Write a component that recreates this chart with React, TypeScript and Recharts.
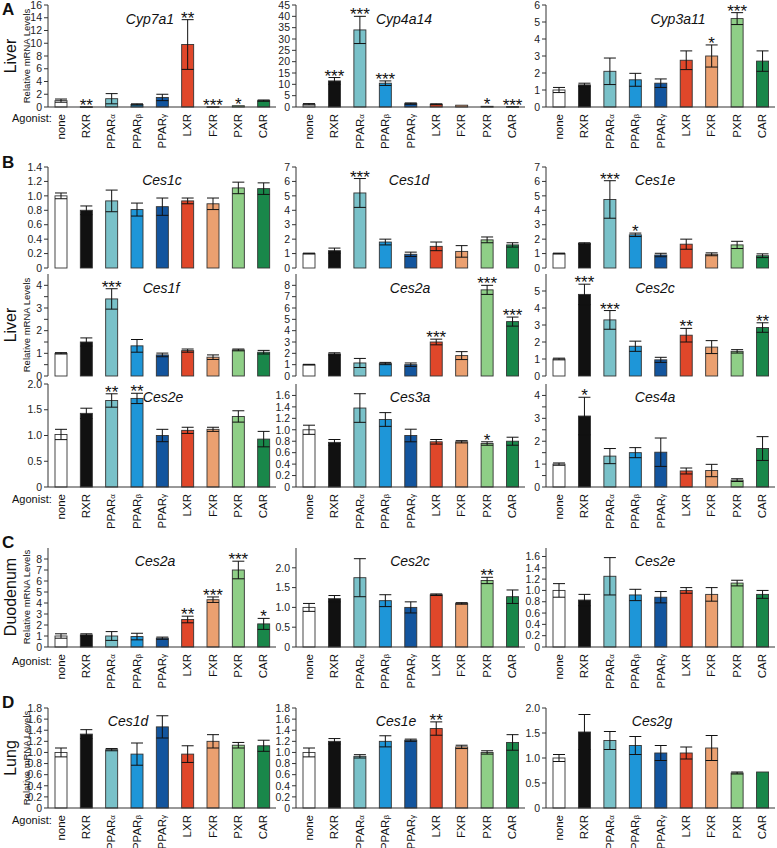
import { BarChart, Bar, XAxis, YAxis, ErrorBar } from 'recharts';

const FONT = 'Arial, "Liberation Sans", sans-serif';

const agonists = ['none', 'RXR', 'PPARα', 'PPARβ', 'PPARγ', 'LXR', 'FXR', 'PXR', 'CAR'];
const barColors = ['#ffffff', '#111111', '#79c1c9', '#1e96d8', '#13559e', '#e0472a', '#eba070', '#8fcf87', '#19874a'];

// A - liver
const cyp7a1Mean = [1.0, 0.05, 1.3, 0.4, 1.5, 9.8, 0.05, 0.2, 1.0];
const cyp7a1Err = [0.25, 0, 0.8, 0.1, 0.5, 3.9, 0, 0, 0.1];
const cyp7a1Sig = ['', '**', '', '', '', '**', '***', '*', ''];
const cyp7a1Ticks = [0, 2, 4, 6, 8, 10, 12, 14, 16];

const cyp4a14Mean = [1.2, 11.5, 34, 10.5, 1.5, 1.2, 0.8, 0.3, 0.2];
const cyp4a14Err = [0.3, 1.5, 6, 1.0, 0.3, 0.2, 0, 0, 0];
const cyp4a14Sig = ['', '***', '***', '***', '', '', '', '*', '***'];
const cyp4a14Ticks = [0, 5, 10, 15, 20, 25, 30, 35, 40, 45];

const cyp3a11Mean = [1.0, 1.3, 2.1, 1.6, 1.4, 2.75, 3.0, 5.2, 2.7];
const cyp3a11Err = [0.15, 0.1, 0.78, 0.38, 0.25, 0.55, 0.65, 0.35, 0.6];
const cyp3a11Sig = ['', '', '', '', '', '', '*', '***', ''];
const cyp3a11Ticks = [0, 1, 2, 3, 4, 5, 6];

// B - liver carboxylesterases
const ces1cMean = [1.0, 0.8, 0.93, 0.81, 0.85, 0.93, 0.89, 1.11, 1.1];
const ces1cErr = [0.04, 0.06, 0.15, 0.09, 0.12, 0.04, 0.08, 0.08, 0.08];
const ces1cSig = ['', '', '', '', '', '', '', '', ''];
const ces1cTicks = [0, 0.2, 0.4, 0.6, 0.8, 1.0, 1.2, 1.4];

const ces1dMean = [1.0, 1.2, 5.2, 1.8, 0.95, 1.5, 1.15, 1.95, 1.6];
const ces1dErr = [0.03, 0.18, 1.0, 0.2, 0.15, 0.3, 0.4, 0.2, 0.15];
const ces1dSig = ['', '', '***', '', '', '', '', '', ''];
const ces1dTicks = [0, 1, 2, 3, 4, 5, 6, 7];

const ces1eMean = [1.0, 1.7, 4.75, 2.3, 0.9, 1.65, 0.95, 1.6, 0.85];
const ces1eErr = [0.03, 0.05, 1.3, 0.12, 0.12, 0.35, 0.1, 0.25, 0.13];
const ces1eSig = ['', '', '***', '*', '', '', '', '', ''];
const ces1eTicks = [0, 1, 2, 3, 4, 5, 6, 7];

const ces1fMean = [1.0, 1.5, 3.4, 1.33, 0.93, 1.12, 0.83, 1.15, 1.05];
const ces1fErr = [0.03, 0.18, 0.45, 0.28, 0.08, 0.07, 0.1, 0.04, 0.08];
const ces1fSig = ['', '', '***', '', '', '', '', '', ''];
const ces1fTicks = [0, 0.5, 1, 1.5, 2, 2.5, 3, 3.5, 4];

const ces2aMean = [1.0, 1.95, 1.15, 1.1, 1.0, 3.0, 1.8, 7.6, 4.8];
const ces2aErr = [0.03, 0.1, 0.4, 0.1, 0.15, 0.25, 0.35, 0.4, 0.4];
const ces2aSig = ['', '', '', '', '', '***', '', '***', '***'];
const ces2aTicks = [0, 1, 2, 3, 4, 5, 6, 7, 8];

const ces2cMean = [1.0, 4.8, 3.3, 1.75, 0.95, 2.4, 1.7, 1.45, 2.85];
const ces2cErr = [0.05, 0.6, 0.55, 0.3, 0.15, 0.4, 0.38, 0.1, 0.28];
const ces2cSig = ['', '***', '***', '', '', '**', '', '', '**'];
const ces2cTicks = [0, 1, 2, 3, 4, 5];

const ces2eMean = [1.02, 1.43, 1.68, 1.72, 1.0, 1.1, 1.12, 1.37, 0.93];
const ces2eErr = [0.1, 0.1, 0.13, 0.1, 0.12, 0.06, 0.04, 0.11, 0.15];
const ces2eSig = ['', '', '**', '**', '', '', '', '', ''];
const ces2eTicks = [0, 0.5, 1.0, 1.5, 2.0];

const ces3aMean = [1.0, 0.78, 1.38, 1.18, 0.9, 0.79, 0.79, 0.76, 0.8];
const ces3aErr = [0.08, 0.05, 0.25, 0.12, 0.11, 0.04, 0.02, 0.03, 0.07];
const ces3aSig = ['', '', '', '', '', '', '', '*', ''];
const ces3aTicks = [0, 0.2, 0.4, 0.6, 0.8, 1.0, 1.2, 1.4, 1.6];

const ces4aMean = [1.0, 3.1, 1.35, 1.5, 1.52, 0.7, 0.72, 0.3, 1.68];
const ces4aErr = [0.05, 0.82, 0.33, 0.22, 0.62, 0.13, 0.27, 0.06, 0.52];
const ces4aSig = ['', '*', '', '', '', '', '', '', ''];
const ces4aTicks = [0, 0.5, 1, 1.5, 2, 2.5, 3, 3.5, 4];

// C - duodenum
const duoCes2aMean = [1.0, 1.1, 1.0, 0.95, 0.8, 2.5, 4.3, 7.0, 2.1];
const duoCes2aErr = [0.2, 0.1, 0.4, 0.3, 0.1, 0.3, 0.25, 0.8, 0.5];
const duoCes2aSig = ['', '', '', '', '', '**', '***', '***', '*'];
const duoCes2aTicks = [0, 1, 2, 3, 4, 5, 6, 7, 8];

const duoCes2cMean = [1.0, 1.22, 1.75, 1.17, 1.0, 1.32, 1.1, 1.68, 1.27];
const duoCes2cErr = [0.1, 0.08, 0.48, 0.15, 0.14, 0.02, 0.02, 0.08, 0.17];
const duoCes2cSig = ['', '', '', '', '', '', '', '**', ''];
const duoCes2cTicks = [0, 0.5, 1.0, 1.5, 2.0];

const duoCes2eMean = [1.0, 0.83, 1.25, 0.92, 0.88, 1.0, 0.93, 1.13, 0.93];
const duoCes2eErr = [0.12, 0.1, 0.33, 0.1, 0.1, 0.05, 0.12, 0.05, 0.07];
const duoCes2eSig = ['', '', '', '', '', '', '', '', ''];
const duoCes2eTicks = [0, 0.2, 0.4, 0.6, 0.8, 1.0, 1.2, 1.4, 1.6];

// D - lung
const lungCes1dMean = [1.0, 1.33, 1.05, 0.97, 1.46, 0.97, 1.2, 1.13, 1.12];
const lungCes1dErr = [0.08, 0.08, 0.02, 0.2, 0.2, 0.15, 0.12, 0.05, 0.1];
const lungCes1dSig = ['', '', '', '', '', '', '', '', ''];
const lungCes1dTicks = [0, 0.2, 0.4, 0.6, 0.8, 1.0, 1.2, 1.4, 1.6, 1.8];

const lungCes1eMean = [1.0, 1.2, 0.93, 1.2, 1.22, 1.43, 1.1, 1.0, 1.18];
const lungCes1eErr = [0.08, 0.05, 0.03, 0.1, 0.02, 0.12, 0.03, 0.03, 0.14];
const lungCes1eSig = ['', '', '', '', '', '**', '', '', ''];
const lungCes1eTicks = [0, 0.2, 0.4, 0.6, 0.8, 1.0, 1.2, 1.4, 1.6, 1.8];

const lungCes2gMean = [1.0, 1.52, 1.35, 1.25, 1.1, 1.1, 1.2, 0.7, 0.72];
const lungCes2gErr = [0.07, 0.35, 0.18, 0.18, 0.15, 0.12, 0.25, 0.02, 0];
const lungCes2gSig = ['', '', '', '', '', '', '', '', ''];
const lungCes2gTicks = [0, 0.5, 1.0, 1.5, 2.0];

const colX = [48, 296, 546];
const colW = [228, 229, 229];

const BarWithStars = (props: any) => {
  const { x, y, width, height, payload } = props;
  const unit = payload.mean > 0 ? height / payload.mean : 0;
  const errTop = y - payload.err * unit;
  return (
    <g>
      <rect x={x} y={y} width={width} height={Math.max(height, 0.8)} fill={payload.color} stroke="#333" strokeWidth={0.9} />
      {payload.sig ? (
        <text x={x + width / 2} y={errTop + 4} textAnchor="middle" fontSize={17} fontFamily={FONT} fill="#111">
          {payload.sig}
        </text>
      ) : null}
    </g>
  );
};

const AgonistTick = (props: any) => {
  const { x, y, payload } = props;
  const label: string = payload.value;
  const greek = /[αβγ]$/.test(label);
  return (
    <text transform={`translate(${x + 4},${y + 5}) rotate(-90)`} textAnchor="end" fontSize={11.5} fill="#111" fontFamily={FONT}>
      {greek ? (
        <>
          {label.slice(0, -1)}
          <tspan fontSize={8}>{label.slice(-1)}</tspan>
        </>
      ) : (
        label
      )}
    </text>
  );
};

interface PanelProps {
  col: number;
  y: number;
  h: number;
  mean: number[];
  err: number[];
  sig: string[];
  ticks: number[];
  max: number;
  digits: number;
  showX?: boolean;
}

function Panel({ col, y, h, mean, err, sig, ticks, max, digits, showX }: PanelProps) {
  const data = agonists.map((name, i) => ({ name, mean: mean[i], err: err[i], sig: sig[i], color: barColors[i] }));
  const axisW = 32;
  const top = 8;
  const bottom = showX ? 52 : 0;
  const w = colW[col];
  const fmt = (v: number) => {
    if (digits === 0 && !Number.isInteger(v)) return '';
    return v === 0 ? '0' : v.toFixed(digits);
  };
  return (
    <div style={{ position: 'absolute', left: colX[col] - axisW, top: y - top }}>
      <BarChart width={axisW + w + 2} height={top + h + bottom + 6} data={data} margin={{ top, right: 2, left: 0, bottom: 6 }} barSize={12}>
        <XAxis
          dataKey="name"
          interval={0}
          tickLine={false}
          tickSize={0}
          axisLine={{ stroke: '#333' }}
          height={bottom}
          tick={showX ? <AgonistTick /> : false}
        />
        <XAxis xAxisId="top" orientation="top" dataKey="name" height={0} tick={false} tickLine={false} axisLine={{ stroke: '#333' }} />
        <YAxis
          width={axisW}
          domain={[0, max]}
          ticks={ticks}
          interval={0}
          tickSize={4}
          tickLine={{ stroke: '#333' }}
          axisLine={{ stroke: '#333' }}
          tickFormatter={fmt}
          tick={{ fontSize: 10.5, fill: '#222', fontFamily: FONT }}
        />
        <YAxis yAxisId="r" orientation="right" width={0} domain={[0, max]} tick={false} tickLine={false} axisLine={{ stroke: '#333' }} />
        <Bar dataKey="mean" isAnimationActive={false} shape={BarWithStars}>
          <ErrorBar dataKey="err" width={6} stroke="#111" strokeWidth={1} direction="y" />
        </Bar>
      </BarChart>
    </div>
  );
}

const titles = [
  { t: 'Cyp7a1', x: 150, y: 24 },
  { t: 'Cyp4a14', x: 404, y: 24 },
  { t: 'Cyp3a11', x: 678, y: 24 },
  { t: 'Ces1c', x: 162, y: 185 },
  { t: 'Ces1d', x: 409, y: 185 },
  { t: 'Ces1e', x: 655, y: 185 },
  { t: 'Ces1f', x: 161, y: 293 },
  { t: 'Ces2a', x: 410, y: 293 },
  { t: 'Ces2c', x: 655, y: 293 },
  { t: 'Ces2e', x: 163, y: 402 },
  { t: 'Ces3a', x: 410, y: 402 },
  { t: 'Ces4a', x: 655, y: 402 },
  { t: 'Ces2a', x: 155, y: 566 },
  { t: 'Ces2c', x: 410, y: 566 },
  { t: 'Ces2e', x: 655, y: 566 },
  { t: 'Ces1d', x: 128, y: 726 },
  { t: 'Ces1e', x: 396, y: 726 },
  { t: 'Ces2g', x: 652, y: 726 },
];

const sections = [
  { letter: 'A', ly: 15, organ: 'Liver', oy: 56, agy: 122 },
  { letter: 'B', ly: 168, organ: 'Liver', oy: 325, agy: 503 },
  { letter: 'C', ly: 548, organ: 'Duodenum', oy: 597, agy: 665 },
  { letter: 'D', ly: 708, organ: 'Lung', oy: 758, agy: 824 },
];

export default function App() {
  const A = 5;
  const B1 = 167;
  const B2 = 274;
  const B3 = 384;
  const C = 548;
  const D = 708;
  return (
    <div style={{ position: 'absolute', left: 0, top: 0, width: 777, height: 848, background: '#fff', fontFamily: FONT }}>
      <Panel col={0} y={A} h={102} mean={cyp7a1Mean} err={cyp7a1Err} sig={cyp7a1Sig} ticks={cyp7a1Ticks} max={16} digits={0} showX />
      <Panel col={1} y={A} h={102} mean={cyp4a14Mean} err={cyp4a14Err} sig={cyp4a14Sig} ticks={cyp4a14Ticks} max={45} digits={0} showX />
      <Panel col={2} y={A} h={102} mean={cyp3a11Mean} err={cyp3a11Err} sig={cyp3a11Sig} ticks={cyp3a11Ticks} max={6} digits={0} showX />

      <Panel col={0} y={B1} h={101} mean={ces1cMean} err={ces1cErr} sig={ces1cSig} ticks={ces1cTicks} max={1.4} digits={1} />
      <Panel col={1} y={B1} h={101} mean={ces1dMean} err={ces1dErr} sig={ces1dSig} ticks={ces1dTicks} max={7} digits={0} />
      <Panel col={2} y={B1} h={101} mean={ces1eMean} err={ces1eErr} sig={ces1eSig} ticks={ces1eTicks} max={7} digits={0} />

      <Panel col={0} y={B2} h={102} mean={ces1fMean} err={ces1fErr} sig={ces1fSig} ticks={ces1fTicks} max={4.5} digits={0} />
      <Panel col={1} y={B2} h={102} mean={ces2aMean} err={ces2aErr} sig={ces2aSig} ticks={ces2aTicks} max={9} digits={0} />
      <Panel col={2} y={B2} h={102} mean={ces2cMean} err={ces2cErr} sig={ces2cSig} ticks={ces2cTicks} max={6} digits={0} />

      <Panel col={0} y={B3} h={103} mean={ces2eMean} err={ces2eErr} sig={ces2eSig} ticks={ces2eTicks} max={2} digits={1} showX />
      <Panel col={1} y={B3} h={103} mean={ces3aMean} err={ces3aErr} sig={ces3aSig} ticks={ces3aTicks} max={1.8} digits={1} showX />
      <Panel col={2} y={B3} h={103} mean={ces4aMean} err={ces4aErr} sig={ces4aSig} ticks={ces4aTicks} max={4.5} digits={0} showX />

      <Panel col={0} y={C} h={99} mean={duoCes2aMean} err={duoCes2aErr} sig={duoCes2aSig} ticks={duoCes2aTicks} max={9} digits={0} showX />
      <Panel col={1} y={C} h={99} mean={duoCes2cMean} err={duoCes2cErr} sig={duoCes2cSig} ticks={duoCes2cTicks} max={2.5} digits={1} showX />
      <Panel col={2} y={C} h={99} mean={duoCes2eMean} err={duoCes2eErr} sig={duoCes2eSig} ticks={duoCes2eTicks} max={1.75} digits={1} showX />

      <Panel col={0} y={D} h={100} mean={lungCes1dMean} err={lungCes1dErr} sig={lungCes1dSig} ticks={lungCes1dTicks} max={1.8} digits={1} showX />
      <Panel col={1} y={D} h={100} mean={lungCes1eMean} err={lungCes1eErr} sig={lungCes1eSig} ticks={lungCes1eTicks} max={1.8} digits={1} showX />
      <Panel col={2} y={D} h={100} mean={lungCes2gMean} err={lungCes2gErr} sig={lungCes2gSig} ticks={lungCes2gTicks} max={2} digits={1} showX />

      <svg width={777} height={848} style={{ position: 'absolute', left: 0, top: 0, pointerEvents: 'none' }}>
        {titles.map((d, i) => (
          <text key={i} x={d.x} y={d.y} textAnchor="middle" fontSize={14} fontStyle="italic" fontFamily={FONT} fill="#111">
            {d.t}
          </text>
        ))}
        {sections.map((s) => (
          <g key={s.letter}>
            <text x={2} y={s.ly} fontSize={17} fontWeight="bold" fontFamily={FONT} fill="#111">
              {s.letter}
            </text>
            <text transform={`translate(16,${s.oy}) rotate(-90)`} textAnchor="middle" fontSize={16} fontFamily={FONT} fill="#111">
              {s.organ}
            </text>
            <text transform={`translate(30,${s.oy}) rotate(-90)`} textAnchor="middle" fontSize={9.5} fontFamily={FONT} fill="#111">
              Relative mRNA Levels
            </text>
            <text x={12} y={s.agy} fontSize={11} fontFamily={FONT} fill="#111">
              Agonist:
            </text>
          </g>
        ))}
      </svg>
    </div>
  );
}
